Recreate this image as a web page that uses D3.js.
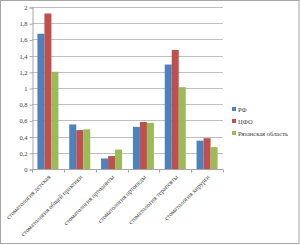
<!DOCTYPE html>
<html>
<head>
<meta charset="utf-8">
<script src="https://cdn.jsdelivr.net/npm/d3@7"></script>
<style>
    body { margin: 0; background: #fff; }
    svg { display: block; }
    text { font-family: "Liberation Serif", "DejaVu Serif", serif; fill: #404040; }
</style>
</head>
<body>
<div id="chart"></div>
<script>
// Chart data
const categories = [
    'стоматология детская',
    'стоматология общей практики',
    'стоматология ортодонты',
    'стоматология ортопеды',
    'стоматология терапевты',
    'стоматология хирурги'
];
const seriesNames = ['РФ', 'ЦФО', 'Рязанская область'];
const rfValues = [1.67, 0.55, 0.13, 0.52, 1.29, 0.35];
const cfoValues = [1.92, 0.48, 0.16, 0.58, 1.47, 0.38];
const ryazanValues = [1.2, 0.49, 0.24, 0.57, 1.01, 0.27];
const yTicks = [0, 0.2, 0.4, 0.6, 0.8, 1, 1.2, 1.4, 1.6, 1.8, 2];
const colors = ['#4f81bd', '#c0504d', '#9bbb59'];

const allSeries = [rfValues, cfoValues, ryazanValues];

const width = 300, height = 245;
const plot = {left: 32, right: 223, top: 7, bottom: 169};

const svg = d3.select('#chart')
    .append('svg')
    .attr('width', width)
    .attr('height', height);

// Outer border
svg.append('rect')
    .attr('x', 0.5).attr('y', 0.5)
    .attr('width', width - 1.5).attr('height', height - 2)
    .attr('fill', '#fff')
    .attr('stroke', '#a6a6a6');

// Scales
const x = d3.scaleBand()
    .domain(categories)
    .range([plot.left, plot.right])
    .paddingInner(0.34)
    .paddingOuter(0.17);

const xSub = d3.scaleBand()
    .domain(seriesNames)
    .range([0, x.bandwidth()]);

const y = d3.scaleLinear()
    .domain([0, 2])
    .range([plot.bottom, plot.top]);

// Gridlines
svg.append('g')
    .selectAll('line')
    .data(yTicks.filter(d => d > 0))
    .enter()
    .append('line')
    .attr('x1', plot.left)
    .attr('x2', plot.right)
    .attr('y1', d => Math.round(y(d)) + 0.5)
    .attr('y2', d => Math.round(y(d)) + 0.5)
    .attr('stroke', '#bfbfbf');

// Y axis
const yAxis = svg.append('g')
    .attr('transform', `translate(${plot.left + 0.5},0.5)`)
    .call(d3.axisLeft(y)
        .tickValues(yTicks)
        .tickSize(3)
        .tickFormat(d => String(d).replace('.', ',')));
yAxis.select('.domain').attr('stroke', '#a6a6a6');
yAxis.selectAll('.tick line').attr('stroke', '#a6a6a6');
yAxis.selectAll('text')
    .attr('x', -5)
    .style('font-size', '6.5px')
    .style('font-family', '"Liberation Serif", serif')
    .attr('fill', '#404040');

// Bars
const groups = svg.append('g')
    .selectAll('g')
    .data(categories)
    .enter()
    .append('g')
    .attr('transform', d => `translate(${x(d)},0)`);

groups.selectAll('rect')
    .data((d, i) => allSeries.map((s, j) => ({name: seriesNames[j], value: s[i], color: colors[j]})))
    .enter()
    .append('rect')
    .attr('x', d => xSub(d.name))
    .attr('y', d => y(d.value))
    .attr('width', xSub.bandwidth())
    .attr('height', d => y(0) - y(d.value))
    .attr('fill', d => d.color);

// X axis
const step = (plot.right - plot.left) / categories.length;
const xAxis = svg.append('g')
    .attr('transform', `translate(0,${plot.bottom + 0.5})`);
xAxis.append('line')
    .attr('x1', plot.left)
    .attr('x2', plot.right)
    .attr('stroke', '#a6a6a6');
xAxis.selectAll('line.tick')
    .data(d3.range(categories.length + 1))
    .enter()
    .append('line')
    .attr('class', 'tick')
    .attr('x1', i => Math.round(plot.left + i * step) + 0.5)
    .attr('x2', i => Math.round(plot.left + i * step) + 0.5)
    .attr('y1', 0)
    .attr('y2', 3)
    .attr('stroke', '#a6a6a6');

xAxis.selectAll('text')
    .data(categories)
    .enter()
    .append('text')
    .attr('transform', d => `translate(${x(d) + x.bandwidth() / 2 + 3},8) rotate(-45)`)
    .attr('text-anchor', 'end')
    .style('font-size', '6.5px')
    .text(d => d);

// Legend
const legend = svg.append('g')
    .attr('transform', 'translate(232,110)');

const items = legend.selectAll('g')
    .data(seriesNames)
    .enter()
    .append('g')
    .attr('transform', (d, i) => `translate(0,${i * 12})`);

items.append('rect')
    .attr('x', 0)
    .attr('y', -3)
    .attr('width', 4)
    .attr('height', 4)
    .attr('fill', (d, i) => colors[i]);

items.append('text')
    .attr('x', 6)
    .attr('y', 1.5)
    .style('font-size', '6.5px')
    .text(d => d);
</script>
</body>
</html>
